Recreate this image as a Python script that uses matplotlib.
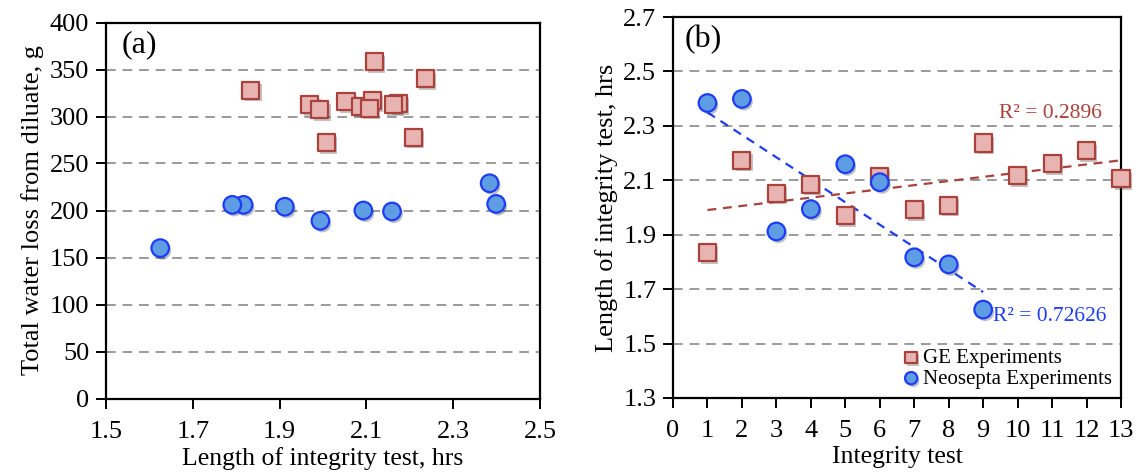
import numpy as np
import matplotlib
matplotlib.use("Agg")
import matplotlib.pyplot as plt
import matplotlib.patheffects as pe

plt.rcParams['font.family'] = ['Liberation Serif', 'DejaVu Serif']

# GE experiments: test number, length of test (hrs), water loss (g)
ge_test = [1, 2, 3, 4, 5, 6, 7, 8, 9, 10, 11, 12, 13]
ge_hrs = [1.834, 2.174, 2.053, 2.086, 1.970, 2.115, 1.993, 2.009, 2.237, 2.118, 2.162, 2.209, 2.107]
ge_loss = [328, 314, 316, 311, 313, 317, 307, 272, 340, 358, 313, 278, 309]

# Neosepta experiments
neo_test = [1, 2, 3, 4, 5, 6, 7, 8, 9]
neo_hrs = [2.384, 2.399, 1.912, 1.994, 2.159, 2.093, 1.817, 1.791, 1.625]
neo_loss = [229, 207, 204, 189, 199, 200, 206, 206, 160]

ge_face, ge_edge = '#e8b4b1', '#a9413d'
neo_face, neo_edge = '#5e9de3', '#1f3cf5'
shadow = [pe.SimplePatchShadow(offset=(1.5, -2), alpha=0.3), pe.Normal()]

fig = plt.figure(figsize=(11.36, 4.76), dpi=100)
ax1 = fig.add_axes([106/1136, 77.5/476, 434/1136, 376/476])
ax2 = fig.add_axes([673/1136, 78/476, 448/1136, 381/476])

def style(ax):
    for s in ax.spines.values():
        s.set_linewidth(1.6)
        s.set_color('black')
    ax.tick_params(direction='out', length=7, width=1.4, labelsize=19)
    ax.tick_params(axis='x', pad=9)
    ax.tick_params(axis='y', pad=5)
    ax.grid(axis='y', linestyle=(0, (5, 3.5)), color='#9a9a9a', linewidth=1.4)
    ax.set_axisbelow(True)

# panel (a)
ax1.scatter(ge_hrs, ge_loss, marker='s', s=150, facecolor=ge_face, edgecolor=ge_edge,
            linewidth=1.6, zorder=3, path_effects=shadow)
ax1.scatter(neo_hrs, neo_loss, marker='o', s=160, facecolor=neo_face, edgecolor=neo_edge,
            linewidth=1.6, zorder=3, path_effects=shadow)
ax1.set_xlim(1.5, 2.5)
ax1.set_ylim(0, 400)
ax1.set_xticks(np.arange(1.5, 2.51, 0.2))
ax1.set_xticklabels(['1.5', '1.7', '1.9', '2.1', '2.3', '2.5'])
ax1.set_yticks(np.arange(0, 401, 50))
style(ax1)
ax1.yaxis.get_gridlines()[-1].set_visible(False)
ax1.yaxis.get_gridlines()[0].set_visible(False)
ax1.set_xlabel('Length of integrity test, hrs', fontsize=18.5, labelpad=3)
ax1.set_ylabel('Total water loss from diluate, g', fontsize=19, labelpad=4)
ax1.text(0.037, 0.98, '(a)', transform=ax1.transAxes, fontsize=23, va='top')

# panel (b)
pg = np.polyfit(ge_test, ge_hrs, 1)
pn = np.polyfit(neo_test, neo_hrs, 1)
xg = np.array([min(ge_test), max(ge_test)])
xn = np.array([min(neo_test), max(neo_test)])
ax2.plot(xg, np.polyval(pg, xg), linestyle=(0, (4, 3)), color=ge_edge, linewidth=1.6, zorder=2)
ax2.plot(xn, np.polyval(pn, xn), linestyle=(0, (4, 3)), color=neo_edge, linewidth=1.6, zorder=2)
ax2.scatter(ge_test, ge_hrs, marker='s', s=150, facecolor=ge_face, edgecolor=ge_edge,
            linewidth=1.6, zorder=3, path_effects=shadow, label='GE Experiments', clip_on=False)
ax2.scatter(neo_test, neo_hrs, marker='o', s=160, facecolor=neo_face, edgecolor=neo_edge,
            linewidth=1.6, zorder=4, path_effects=shadow, label='Neosepta Experiments')
ax2.set_xlim(0, 13)
ax2.set_ylim(1.3, 2.7)
ax2.set_xticks(np.arange(0, 14, 1))
ax2.set_yticks(np.arange(1.3, 2.71, 0.2))
ax2.set_yticklabels(['1.3', '1.5', '1.7', '1.9', '2.1', '2.3', '2.5', '2.7'])
style(ax2)
ax2.yaxis.get_gridlines()[-1].set_visible(False)
ax2.yaxis.get_gridlines()[0].set_visible(False)
ax2.set_xlabel('Integrity test', fontsize=18.5, labelpad=3)
ax2.set_ylabel('Length of integrity test, hrs', fontsize=19, labelpad=4)
ax2.text(0.025, 0.978, '(b)', transform=ax2.transAxes, fontsize=23, va='top')
ax2.text(9.47, 2.345, 'R² = 0.2896', color=ge_edge, fontsize=15.5, va='center')
ax2.text(9.28, 1.60, 'R² = 0.72626', color=neo_edge, fontsize=15.5, va='center')
leg = ax2.legend(loc='lower right', frameon=False, fontsize=15, handletextpad=0.0,
                 borderpad=0.1, labelspacing=0.05, markerscale=0.7, borderaxespad=0.35,
                 handlelength=1.1)

fig.savefig('out.png', dpi=100)
